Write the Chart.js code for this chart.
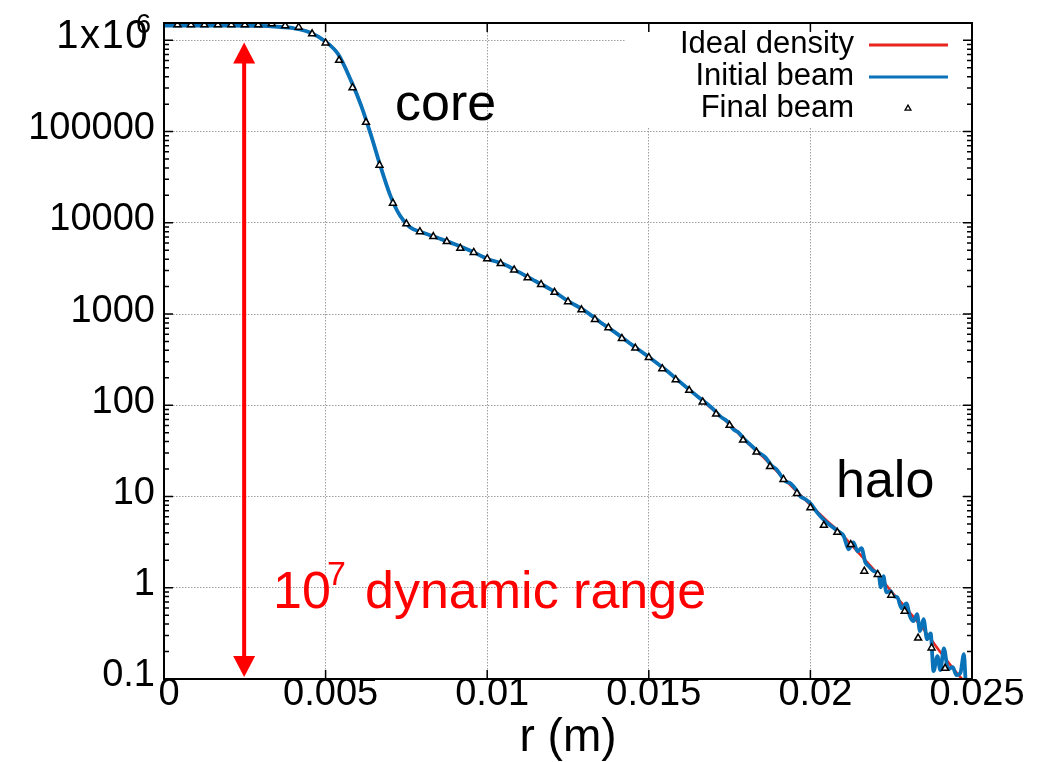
<!DOCTYPE html>
<html><head><meta charset="utf-8">
<script src="https://cdn.jsdelivr.net/npm/chart.js@4.4.1/dist/chart.umd.min.js"></script>
<style>html,body{margin:0;padding:0;background:#fff;}#wrap{width:1053px;height:762px;}</style>
</head><body><div id="wrap"><canvas id="c" width="1053" height="762"></canvas></div>
<script>
// ---------- data ----------
const xTickValues = [0, 0.005, 0.01, 0.015, 0.02, 0.025];
const xTickLabels = ['0', '0.005', '0.01', '0.015', '0.02', '0.025'];
const yTickValues = [0.1, 1, 10, 100, 1000, 10000, 100000, 1000000];
const yTickLabels = ['0.1', '1', '10', '100', '1000', '10000', '100000', ''];

const rIdeal = [0, 0.001, 0.002, 0.003, 0.0035, 0.004, 0.0045, 0.005, 0.0054, 0.0058, 0.0061, 0.0064, 0.0067, 0.007, 0.0073, 0.0076, 0.008,
  0.0085, 0.009, 0.0095, 0.01, 0.0105, 0.011, 0.0115, 0.012, 0.0125, 0.013, 0.0135, 0.014, 0.0145, 0.015, 0.0155, 0.016,
  0.0165, 0.017, 0.0175, 0.018, 0.0185, 0.019, 0.0195, 0.02, 0.0205, 0.021, 0.0215, 0.022, 0.0225, 0.023, 0.0235, 0.024, 0.0245, 0.0247];
const ideal = [1.45e6, 1.45e6, 1.45e6, 1.44e6, 1.41e6, 1.36e6, 1.23e6, 9.7e5, 6.96e5, 3.53e5, 1.93e5, 9.27e4, 4.14e4, 2.0e4, 1.2e4, 9.0e3, 7.83e3,
  6.77e3, 5.82e3, 4.91e3, 4.04e3, 3.53e3, 2.86e3, 2.29e3, 1.83e3, 1.39e3, 1.10e3, 815, 614, 454, 339, 248, 176,
  126, 88.5, 61.9, 40.6, 27.9, 18.3, 12.1, 8.11, 5.48, 3.76, 2.39, 1.52, 0.916, 0.574, 0.351, 0.201, 0.120, 0.099];

const rInitial = [0, 0.001, 0.002, 0.003, 0.0035, 0.004, 0.0045, 0.005, 0.0054, 0.0058, 0.0061, 0.0064, 0.0067, 0.007, 0.0073, 0.0076, 0.008,
  0.0085, 0.009, 0.0095, 0.01, 0.0105, 0.011, 0.0115, 0.012, 0.0125, 0.013, 0.0135, 0.014, 0.0145, 0.015, 0.0155, 0.016,
  0.0165, 0.01675, 0.01697, 0.01721, 0.01743, 0.01762, 0.01777, 0.01796, 0.0182, 0.01839, 0.01861, 0.01879, 0.01895, 0.01913, 0.01923,
  0.01938, 0.01957, 0.01969, 0.01985, 0.02, 0.02021, 0.02037, 0.02057, 0.02085, 0.02103, 0.02118, 0.02133, 0.02146, 0.02158, 0.0217,
  0.0218, 0.02195, 0.02211, 0.02218, 0.02226, 0.02235, 0.02248, 0.02257, 0.02269, 0.02282, 0.02297, 0.02308, 0.02319, 0.0233, 0.02339,
  0.0235, 0.02361, 0.02372, 0.02381, 0.02393, 0.02402, 0.02413, 0.02426, 0.0244, 0.02452, 0.02464, 0.02475, 0.0248];
const initial = [1.45e6, 1.45e6, 1.45e6, 1.44e6, 1.41e6, 1.36e6, 1.23e6, 9.7e5, 6.96e5, 3.53e5, 1.93e5, 9.27e4, 4.14e4, 2.0e4, 1.2e4, 9.0e3, 7.83e3,
  6.77e3, 5.82e3, 4.91e3, 4.04e3, 3.53e3, 2.86e3, 2.29e3, 1.83e3, 1.39e3, 1.10e3, 815, 614, 454, 339, 248, 176,
  125.8, 107.6, 92.5, 75.6, 66.6, 54.5, 50.5, 42.3, 35.5, 30.5, 26.9, 21.97, 19.9, 16.2, 14.7,
  13.95, 11.7, 10.05, 9.32, 8.42, 6.66, 5.77, 4.96, 4.19, 3.69, 2.64, 3.15, 2.51, 2.71, 1.90,
  1.73, 1.53, 1.41, 1.01, 1.34, 0.893, 0.92, 0.807, 0.787, 0.596, 0.676, 0.487, 0.430, 0.513, 0.334,
  0.452, 0.273, 0.317, 0.122, 0.178, 0.125, 0.217, 0.128, 0.135, 0.110, 0.116, 0.187, 0.097];

const rFinal = [0.000417, 0.000833, 0.00125, 0.001667, 0.002083, 0.0025, 0.002917, 0.003333, 0.00375, 0.004167, 0.004583, 0.005,
  0.005417, 0.005833, 0.00625, 0.006667, 0.007083, 0.0075, 0.007917, 0.008333, 0.00875, 0.009167, 0.009583, 0.01,
  0.010417, 0.010833, 0.01125, 0.011667, 0.012083, 0.0125, 0.012917, 0.013333, 0.01375, 0.014167, 0.014583, 0.015,
  0.015417, 0.015833, 0.01625, 0.016667, 0.017083, 0.0175, 0.017917, 0.018333, 0.01875, 0.019167, 0.019583, 0.02,
  0.020417, 0.020833, 0.02125, 0.021667, 0.022083, 0.0225, 0.022917, 0.023333, 0.02375, 0.024167];
const finalBeam = [1.48e6, 1.48e6, 1.48e6, 1.48e6, 1.48e6, 1.48e6, 1.48e6, 1.52e6, 1.45e6, 1.395e6, 1.18e6, 9.37e5,
  6.04e5, 3.03e5, 1.265e5, 4.28e4, 1.64e4, 9750, 7990, 7080, 6240, 5270, 4730, 4040,
  3580, 3050, 2500, 2110, 1730, 1365, 1115, 873, 708, 541, 424, 335,
  252, 191, 146, 109, 80.1, 60.3, 41.6, 30.7, 21.3, 15.4, 10.8, 7.55,
  4.84, 4.05, 2.98, 1.52, 1.40, 0.828, 0.553, 0.281, 0.219, 0.131];

const legendLabels = ['Ideal density', 'Initial beam', 'Final beam'];
const arrowR = 0.00248, arrowTop = 9.5e5, arrowBottom = 0.105;

// ---------- style ----------
const FONT = "'Liberation Sans', Arial, Helvetica, sans-serif";
const RED = '#e8251e', BLUE = '#0a72b8';
const toXY = (xs, ys) => xs.map((r, i) => ({ x: r, y: ys[i] }));

const decor = {
  id: 'decor',
  beforeDatasetsDraw(chart) {
    const { ctx, chartArea: a } = chart;
    ctx.save();
    ctx.fillStyle = '#fff';
    ctx.fillRect(625, a.top + 1, a.right - 625, 126 - a.top);   // key box
    ctx.fillRect(812, 455, 150, 45);                              // halo label box
    ctx.restore();
  },
  afterDatasetsDraw(chart) {
    const { ctx, chartArea: a, scales: { x, y } } = chart;
    ctx.save();
    // tick marks (inward) on all four sides
    ctx.strokeStyle = '#000';
    ctx.lineWidth = 1.5;
    ctx.beginPath();
    yTickValues.forEach(v => {
      const p = y.getPixelForValue(v);
      ctx.moveTo(a.left, p); ctx.lineTo(a.left + 9, p);
      ctx.moveTo(a.right, p); ctx.lineTo(a.right - 9, p);
    });
    for (let e = -1; e <= 6; e++) {
      for (let m = 2; m <= 9; m++) {
        const v = m * Math.pow(10, e);
        if (v > y.max) continue;
        const p = y.getPixelForValue(v);
        ctx.moveTo(a.left, p); ctx.lineTo(a.left + 5, p);
        ctx.moveTo(a.right, p); ctx.lineTo(a.right - 5, p);
      }
    }
    xTickValues.forEach(v => {
      const p = x.getPixelForValue(v);
      ctx.moveTo(p, a.bottom); ctx.lineTo(p, a.bottom - 9);
      ctx.moveTo(p, a.top); ctx.lineTo(p, a.top + 9);
    });
    ctx.stroke();
    ctx.lineWidth = 2;
    ctx.strokeRect(a.left, a.top, a.right - a.left, a.bottom - a.top);

    // top y label 1x10^6
    ctx.fillStyle = '#000';
    ctx.textBaseline = 'middle';
    ctx.textAlign = 'right';
    ctx.font = `40px ${FONT}`;
    const p6 = y.getPixelForValue(1e6) - 3;
    ctx.letterSpacing = '1.5px';
    ctx.fillText('1x10', 149, p6);
    ctx.letterSpacing = '0px';
    ctx.textAlign = 'left';
    ctx.font = `27px ${FONT}`;
    ctx.fillText('6', 136, p6 - 12);

    // arrow
    const ax = x.getPixelForValue(arrowR);
    const yT = y.getPixelForValue(arrowTop), yB = y.getPixelForValue(arrowBottom);
    ctx.strokeStyle = '#ff0000'; ctx.fillStyle = '#ff0000';
    ctx.lineWidth = 4;
    ctx.beginPath(); ctx.moveTo(ax, yT + 18); ctx.lineTo(ax, yB - 18); ctx.stroke();
    ctx.beginPath(); ctx.moveTo(ax, yT); ctx.lineTo(ax - 11, yT + 21); ctx.lineTo(ax + 11, yT + 21); ctx.closePath(); ctx.fill();
    ctx.beginPath(); ctx.moveTo(ax, yB); ctx.lineTo(ax - 11, yB - 21); ctx.lineTo(ax + 11, yB - 21); ctx.closePath(); ctx.fill();

    // annotations
    ctx.textBaseline = 'alphabetic';
    ctx.textAlign = 'left';
    ctx.font = `52px ${FONT}`;
    ctx.fillText('10', 273, 608);
    ctx.font = `34px ${FONT}`;
    ctx.fillText('7', 327, 585);
    ctx.font = `52px ${FONT}`;
    ctx.fillText('dynamic range', 365, 608);

    ctx.fillStyle = '#000';
    ctx.font = `52px ${FONT}`;
    ctx.fillText('core', 395, 120);
    ctx.fillText('halo', 836, 497);

    // key
    ctx.font = `31px ${FONT}`;
    ctx.textAlign = 'right';
    const rowsBase = [53.3, 85, 116.7];
    const rowsMid = [45, 77, 108.5];
    legendLabels.forEach((t, i) => ctx.fillText(t, 854, rowsBase[i]));
    ctx.lineWidth = 2.8;
    ctx.strokeStyle = RED;
    ctx.beginPath(); ctx.moveTo(869, rowsMid[0]); ctx.lineTo(948, rowsMid[0]); ctx.stroke();
    ctx.strokeStyle = BLUE;
    ctx.beginPath(); ctx.moveTo(869, rowsMid[1]); ctx.lineTo(948, rowsMid[1]); ctx.stroke();
    ctx.strokeStyle = '#000'; ctx.fillStyle = '#fff'; ctx.lineWidth = 1.3;
    const tr = 3.4, tx = 908, ty = rowsMid[2];
    ctx.beginPath();
    ctx.moveTo(tx, ty - tr);
    ctx.lineTo(tx + tr * 0.866, ty + tr * 0.5);
    ctx.lineTo(tx - tr * 0.866, ty + tr * 0.5);
    ctx.closePath(); ctx.fill(); ctx.stroke();
    ctx.restore();
  }
};

const gridOpts = { color: '#9e9e9e', lineWidth: 1, drawTicks: false, tickLength: 0 };

new Chart(document.getElementById('c'), {
  type: 'line',
  data: {
    datasets: [
      { label: legendLabels[0], data: toXY(rIdeal, ideal), borderColor: RED, backgroundColor: RED, borderWidth: 2.6,
        pointRadius: 0, cubicInterpolationMode: 'monotone', fill: false, order: 2 },
      { label: legendLabels[1], data: toXY(rInitial, initial), borderColor: BLUE, backgroundColor: BLUE, borderWidth: 3.8,
        pointRadius: 0, cubicInterpolationMode: 'monotone', fill: false, order: 1 },
      { label: legendLabels[2], data: toXY(rFinal, finalBeam), showLine: false, pointStyle: 'triangle', pointRadius: 4,
        pointBorderWidth: 1.5, pointBorderColor: '#000', pointBackgroundColor: '#fff', order: 0 }
    ]
  },
  options: {
    responsive: false, animation: false, devicePixelRatio: 1,
    layout: { padding: { top: 23, right: 81, left: 0, bottom: 0 } },
    plugins: { legend: { display: false }, tooltip: { enabled: false } },
    scales: {
      x: {
        type: 'linear', min: 0, max: 0.025,
        afterBuildTicks: s => { s.ticks = xTickValues.map(v => ({ value: v })); },
        afterFit: s => { s.height = 83; },
        ticks: { autoSkip: false, maxRotation: 0, minRotation: 0, padding: -3, labelOffset: 5, color: '#000',
          font: { family: FONT, size: 38, lineHeight: 1 }, callback: (v, i) => xTickLabels[i] },
        grid: gridOpts,
        border: { display: false, dash: [1.5, 1.5] },
        title: { display: true, text: 'r (m)', color: '#000', font: { family: FONT, size: 46, lineHeight: 1 }, padding: { top: 0, bottom: 1 } }
      },
      y: {
        type: 'logarithmic', min: 0.1, max: 1.55e6,
        afterBuildTicks: s => { s.ticks = yTickValues.map(v => ({ value: v })); },
        afterFit: s => { s.width = 164; },
        ticks: { autoSkip: false, padding: 9, labelOffset: -3, color: '#000',
          font: { family: FONT, size: 38, lineHeight: 0.5 }, callback: v => yTickLabels[yTickValues.indexOf(v)] },
        grid: gridOpts,
        border: { display: false, dash: [1.5, 1.5] }
      }
    }
  },
  plugins: [decor]
});
</script>
</body></html>
